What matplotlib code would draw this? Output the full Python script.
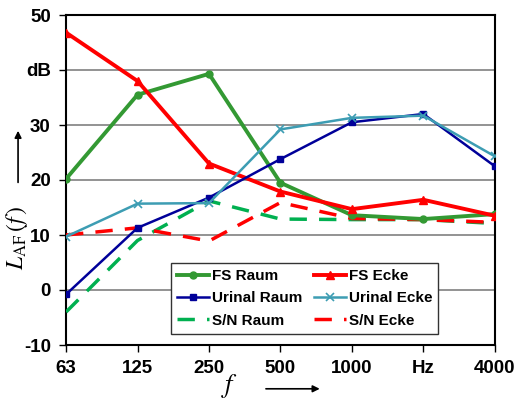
import matplotlib.pyplot as plt

# Kategorien (Oktavmitten)
freq_labels = ['63', '125', '250', '500', '1000', 'Hz', '4000']

# Pegelwerte in dB
fs_raum = [20.2, 35.5, 39.3, 19.5, 13.6, 12.9, 13.8]
fs_ecke = [46.8, 38.0, 23.0, 17.9, 14.7, 16.4, 13.5]
urinal_raum = [-0.8, 11.3, 16.8, 23.8, 30.5, 32.0, 22.5]
urinal_ecke = [9.7, 15.7, 15.8, 29.2, 31.3, 31.7, 24.3]
sn_raum = [-4.0, 9.0, 16.2, 12.9, 12.8, 12.8, 12.1]
sn_ecke = [10.0, 11.3, 8.9, 15.9, 13.0, 12.8, 12.3]

y_ticks = [-10, 0, 10, 20, 30, 40, 50]
y_ticklabels = ['-10', '0', '10', '20', '30', 'dB', '50']

plt.rcParams['font.family'] = ['Liberation Sans', 'DejaVu Sans']
plt.rcParams['mathtext.fontset'] = 'stix'

fig = plt.figure(figsize=(5.16, 4.0), dpi=100)
ax = fig.add_axes([0.128, 0.1375, 0.831, 0.825])

x = list(range(len(freq_labels)))

l1, = ax.plot(x, fs_raum, color='#339933', lw=2.8, marker='o', ms=5, label='FS Raum', zorder=4)
l2, = ax.plot(x, fs_ecke, color='#FF0000', lw=2.8, marker='^', ms=6, label='FS Ecke', zorder=4)
l3, = ax.plot(x, urinal_raum, color='#000099', lw=1.8, marker='s', ms=5, label='Urinal Raum', zorder=4)
l4, = ax.plot(x, urinal_ecke, color='#3D9DB3', lw=1.8, marker='x', ms=6, mew=1.2, label='Urinal Ecke', zorder=4)
l5, = ax.plot(x, sn_raum, color='#00B050', lw=2.5, dashes=(5, 3.5), label='S/N Raum', zorder=3)
l6, = ax.plot(x, sn_ecke, color='#FF0000', lw=2.5, dashes=(5, 3.5), label='S/N Ecke', zorder=3)

ax.set_xlim(0, len(freq_labels) - 1)
ax.set_ylim(-10, 50)
ax.set_xticks(x)
ax.set_xticklabels(freq_labels, fontsize=13.5, fontweight='bold')
ax.set_yticks(y_ticks)
ax.set_yticklabels(y_ticklabels, fontsize=13.5, fontweight='bold')
ax.tick_params(direction='out', length=5, width=1, pad=6)

for yv in [0, 10, 20, 30, 40]:
    ax.axhline(yv, color='#808080', lw=1.2, zorder=1)

for s in ax.spines.values():
    s.set_linewidth(1.5)
    s.set_color('black')

# Reihenfolge so, dass die Zeilen FS / Urinal / S/N sind
handles = [l1, l3, l5, l2, l4, l6]
leg = ax.legend(handles=handles, labels=[h.get_label() for h in handles], ncol=2,
                loc='lower left', bbox_to_anchor=(0.245, 0.034),
                frameon=True, fancybox=False, edgecolor='#333333', framealpha=1,
                handlelength=2.1, handletextpad=0.15, columnspacing=0.8,
                borderpad=0.4, borderaxespad=0, labelspacing=0.55,
                prop={'weight': 'bold', 'size': 11})
leg.get_frame().set_linewidth(1.0)
leg.set_zorder(5)

# Achsenbeschriftungen mit Pfeilen
fig.text(0.032, 0.405, r'$L_{\mathrm{AF}}\,(f\,)$', rotation=90, fontsize=17,
         ha='center', va='center')
fig.text(0.445, 0.035, r'$f$', fontsize=19, ha='center', va='center')
ax.annotate('', xy=(0.035, 0.68), xytext=(0.035, 0.537), xycoords='figure fraction',
            arrowprops=dict(arrowstyle='-|>', color='black', lw=1.2, mutation_scale=10))
ax.annotate('', xy=(0.625, 0.028), xytext=(0.51, 0.028), xycoords='figure fraction',
            arrowprops=dict(arrowstyle='-|>', color='black', lw=1.2, mutation_scale=10))

fig.savefig('out.png', dpi=100)
